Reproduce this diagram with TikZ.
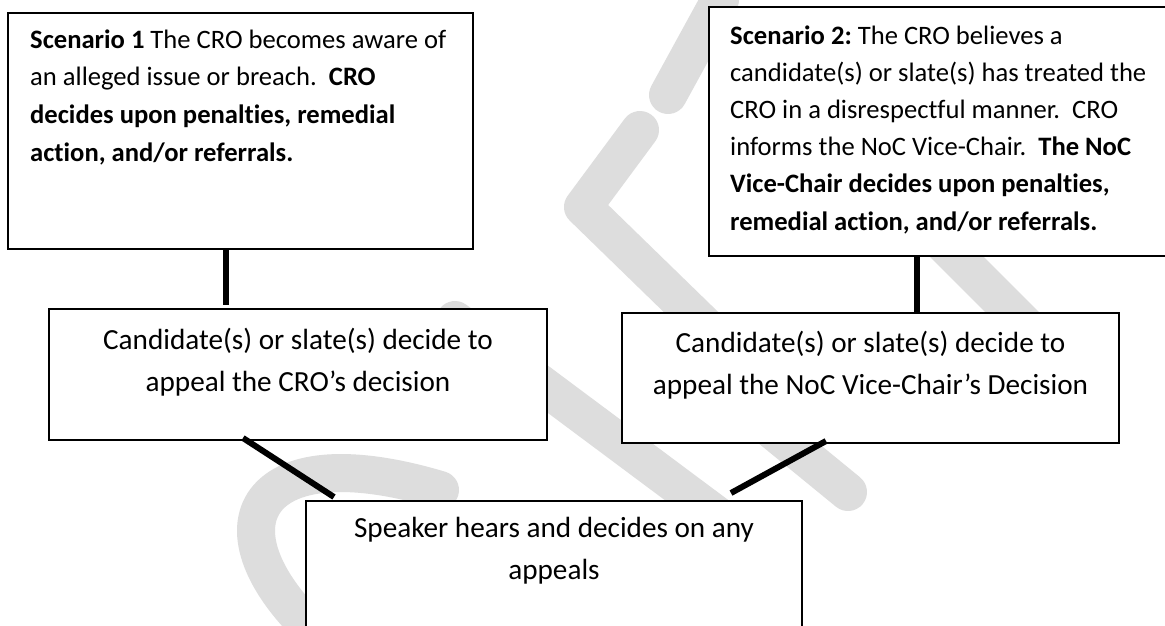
\documentclass[tikz,border=0pt]{standalone}
\usepackage{fontspec}
\setmainfont{Carlito}[RawFeature={-liga}]
\frenchspacing
\definecolor{wm}{RGB}{221,221,221}
\tikzset{
  box/.style={draw=black, line width=1.6pt, fill=white, rectangle, inner sep=0pt, outer sep=0pt, anchor=north west},
  conn/.style={line width=6pt, draw=black},
  wmark/.style={draw=wm, line width=38pt, line cap=round, line join=round},
  tA/.style={anchor=base west, inner sep=0pt, font=\fontsize{26.6}{32}\selectfont},
  tB/.style={anchor=base, inner sep=0pt, font=\fontsize{29.2}{35}\selectfont},
}
\begin{document}
\begin{tikzpicture}[x=1pt,y=-1pt]
\useasboundingbox (0,0) rectangle (1165,625);
\fill[white] (0,0) rectangle (1165,625);
% watermark (behind everything)
\draw[wmark] (668,95) -- (720,0);
\draw[wmark] (640,130) -- (583,207) -- (730,350);
\draw[wmark] (925,225) -- (1060,360);
\draw[wmark] (455,320) -- (730,525);
\draw[wmark] (760,420) -- (848,492);
\draw[wmark] (335,650) .. controls (200,540) and (240,430) .. (440,490);
% boxes
\node[box, minimum width=465pt, minimum height=236pt] (b1) at (8,13) {};
\node[box, minimum width=470pt, minimum height=249pt] (b2) at (709,7) {};
\node[box, minimum width=498pt, minimum height=131pt] (b3) at (49,309) {};
\node[box, minimum width=497pt, minimum height=130pt] (b4) at (622,313) {};
\node[box, minimum width=496pt, minimum height=150pt] (b5) at (306,501) {};
% connectors
\draw[conn] ([xshift=218pt]b1.south west) -- ([xshift=177pt,yshift=4pt]b3.north west);
\draw[conn] ([xshift=208pt]b2.south west) -- ([xshift=295pt,yshift=1pt]b4.north west);
\draw[conn] ([xshift=194pt,yshift=2pt]b3.south west) -- ([xshift=28pt,yshift=4pt]b5.north west);
\draw[conn] ([xshift=204pt,yshift=2pt]b4.south west) -- ([xshift=425pt,yshift=8pt]b5.north west);
% box 1 text
\node[tA] (b1a) at (30,48) {\textbf{Scenario 1} The CRO becomes aware of};
\node[tA] (b1b) at (30,85.8) {an alleged issue or breach.\ \ \textbf{CRO}};
\node[tA] (b1c) at (30,123.6) {\textbf{decides upon penalties, remedial}};
\node[tA] (b1d) at (30,161.4) {\textbf{action, and/or referrals.}};
% box 2 text
\node[tA] (b2a) at (730,44) {\textbf{Scenario 2:} The CRO believes a};
\node[tA] (b2b) at (730,81.2) {candidate(s) or slate(s) has treated the};
\node[tA] (b2c) at (730,118.4) {CRO in a disrespectful manner.\ \ CRO};
\node[tA] (b2d) at (730,155.6) {informs the NoC Vice-Chair.\ \ \textbf{The NoC}};
\node[tA] (b2e) at (730,192.8) {\textbf{Vice-Chair decides upon penalties,}};
\node[tA] (b2f) at (730,230) {\textbf{remedial action, and/or referrals.}};
% row 2 text
\node[tB] (b3a) at (298,349) {Candidate(s) or slate(s) decide to};
\node[tB] (b3b) at (298,391) {appeal the CRO’s decision};
\node[tB] (b4a) at (870.5,352) {Candidate(s) or slate(s) decide to};
\node[tB] (b4b) at (870.5,394) {appeal the NoC Vice-Chair’s Decision};
% speaker text
\node[tB] (b5a) at (554,537) {Speaker hears and decides on any};
\node[tB] (b5b) at (554,579) {appeals};
\end{tikzpicture}
\end{document}
